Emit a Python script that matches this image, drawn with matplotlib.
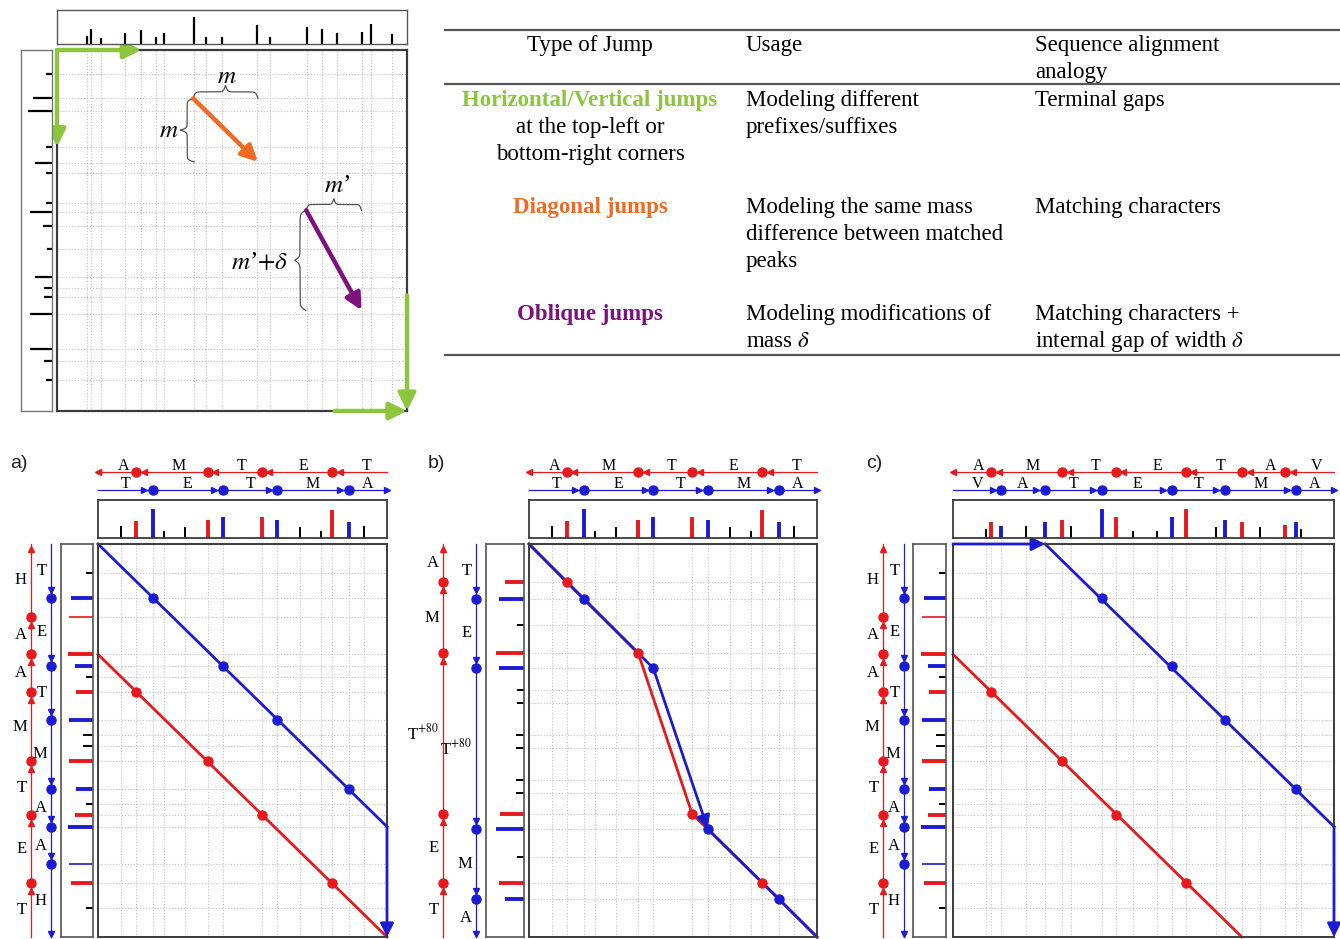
import numpy as np
import matplotlib.pyplot as plt

plt.rcParams['font.family'] = ['Liberation Serif', 'DejaVu Serif']
plt.rcParams['mathtext.fontset'] = 'stix'

W, H = 1340, 939
RED = '#e8191c'
BLUE = '#1b1bd4'
GRID = '#c4c4c4'
EDGE = '#3c3c3c'
GREEN = '#8cc63e'
ORANGE = '#f26a21'
PURPLE = '#7d117d'

# ---------------- top-left schematic (box units 0..100, y downwards) ----------------
tl_top_x = [8.6, 9.8, 12.7, 19.3, 24.1, 28.4, 30.6, 39.0, 42.7, 47.2, 57.2, 60.9,
            71.3, 75.8, 80.0, 87.1, 89.8, 95.7]
tl_top_h = [24, 44, 17, 32, 42, 22, 32, 80, 20, 20, 57, 20, 52, 44, 32, 35, 60, 29]
tl_left_y = [6.7, 13.4, 16.8, 26.8, 31.2, 34.0, 42.5, 44.8, 48.8, 55.0, 62.8, 65.8,
             68.4, 73.0, 82.9, 86.1, 91.5]
tl_left_len = [18, 55, 70, 18, 50, 18, 18, 65, 28, 15, 50, 25, 25, 65, 65, 25, 18]

tl_green_x0 = [0, 0, 100, 79.3]
tl_green_y0 = [0, 0, 68.0, 100]
tl_green_x1 = [24.1, 0, 100, 100]
tl_green_y1 = [0, 26.8, 100, 100]
tl_diag = [38.9, 13.4, 57.4, 31.0]
tl_obl = [71.2, 44.4, 87.0, 72.1]

# ---------------- table ----------------
table_header = ['Type of Jump', 'Usage', 'Sequence alignment\nanalogy']
table_type = ['Horizontal/Vertical jumps', 'Diagonal jumps', 'Oblique jumps']
table_type_note = ['at the top-left or\nbottom-right corners', '', '']
table_usage = ['Modeling different\nprefixes/suffixes',
               'Modeling the same mass\ndifference between matched\npeaks',
               'Modeling modifications of\nmass $\\delta$']
table_analogy = ['Terminal gaps', 'Matching characters',
                 'Matching characters +\ninternal gap of width $\\delta$']
table_colors = [GREEN, ORANGE, PURPLE]

# ---------------- bottom panels ----------------
# horizontal spectrum TETMA (panels a and b)
ab_h_total = 533
ab_h_blue = [101, 230, 331, 462]
ab_h_red = [70, 202, 302, 432]
ab_h_noise = [43, 122, 161, 372, 411, 490]
ab_h_blue_int = [87, 63, 55, 48]
ab_h_red_int = [50, 55, 63, 83]
ab_h_noise_int = [35, 22, 33, 33, 22, 35]
ab_h_blue_seq = ['T', 'E', 'T', 'M', 'A']
ab_h_red_seq = ['A', 'M', 'T', 'E', 'T']

# vertical spectrum TETMAAH (panels a and c)
ac_v_total = 741
ac_v_blue = [101, 230, 331, 462, 533, 604]
ac_v_red = [137, 208, 279, 410, 511, 640]
ac_v_noise = [55, 251, 360, 381, 490, 686]
ac_v_blue_len = [65, 55, 72, 52, 75, 72]
ac_v_red_len = [72, 75, 52, 72, 55, 65]
ac_v_noise_len = [22, 20, 30, 30, 20, 22]
ac_v_weak = [137, 604]
ac_v_blue_seq = ['T', 'E', 'T', 'M', 'A', 'A', 'H']
ac_v_red_seq = ['H', 'A', 'A', 'M', 'T', 'E', 'T']

# panel b vertical spectrum (modified T)
b_v_total = 728
b_v_blue = [101, 230, 528, 657]
b_v_red = [71, 202, 500, 628]
b_v_noise = [150, 270, 294, 353, 377, 437, 461, 580]
b_v_blue_len = [74, 74, 84, 57]
b_v_red_len = [57, 84, 72, 74]
b_v_noise_len = [20, 20, 20, 25, 25, 25, 25, 20]
b_v_blue_seq = ['T', 'E', 'T$^{+80}$', 'M', 'A']
b_v_red_seq = ['A', 'M', 'T$^{+80}$', 'E', 'T']

# panel c horizontal spectrum VATETMA
c_h_total = 703
c_h_blue = [89, 169, 275, 404, 502, 633]
c_h_red = [70, 201, 300, 429, 534, 613]
c_h_noise = [61, 135, 217, 333, 376, 486, 566, 643]
c_h_blue_int = [35, 47, 87, 63, 55, 48]
c_h_red_int = [48, 55, 63, 87, 48, 38]
c_h_noise_int = [27, 35, 35, 20, 20, 33, 32, 27]
c_h_blue_seq = ['V', 'A', 'T', 'E', 'T', 'M', 'A']
c_h_red_seq = ['A', 'M', 'T', 'E', 'T', 'A', 'V']

# alignment paths
a_blue_path = ([0, 533, 533], [0, 533, 741])
a_red_path = ([0, 533], [208, 741])
b_blue_path = ([0, 101, 230, 331, 462, 533], [0, 101, 230, 528, 657, 728])
b_red_path = ([0, 70, 202, 302, 432, 533], [0, 71, 202, 500, 628, 728])
c_blue_path = ([0, 170, 703, 703], [0, 0, 533, 741])
c_red_path = ([0, 533], [208, 741])

fig = plt.figure(figsize=(W / 100, H / 100), dpi=100)


def px_axes(x0, y0, x1, y1, frame=True, lw=1.3, color=EDGE):
    ax = fig.add_axes([x0 / W, 1 - y1 / H, (x1 - x0) / W, (y1 - y0) / H])
    ax.set_xticks([])
    ax.set_yticks([])
    if frame:
        for s in ax.spines.values():
            s.set_color(color)
            s.set_linewidth(lw)
    else:
        ax.axis('off')
    return ax


def arrow(ax, x0, y0, x1, y1, color, lw, ms):
    ax.annotate('', xy=(x1, y1), xytext=(x0, y0), annotation_clip=False,
                arrowprops=dict(arrowstyle='-|>', color=color, lw=lw,
                                mutation_scale=ms, shrinkA=0, shrinkB=0))


def brace(ax, a, b, base, depth, vertical=False):
    t = np.linspace(0, 1, 201)
    half = t[:101]
    beta = 60.0
    yh = 1 / (1 + np.exp(-beta * (half - half[0]))) + 1 / (1 + np.exp(-beta * (half - half[-1])))
    s = np.concatenate([yh, yh[-2::-1]]) - 0.5
    along = a + (b - a) * t
    across = base + depth * s
    if vertical:
        ax.plot(across, along, color='#555555', lw=0.9)
    else:
        ax.plot(along, across, color='#555555', lw=0.9)


canvas = px_axes(0, 0, W, H, frame=False)
canvas.set_xlim(0, W)
canvas.set_ylim(H, 0)

# ---------------- top-left schematic ----------------
tl = px_axes(57, 50, 407, 411, lw=1.6)
tl.set_xlim(0, 100)
tl.set_ylim(100, 0)
for x in tl_top_x:
    tl.axvline(x, color=GRID, ls=':', lw=0.8)
for y in tl_left_y:
    tl.axhline(y, color=GRID, ls=':', lw=0.8)

tt = px_axes(57, 10, 407, 44, lw=1.0, color='#555555')
tt.set_xlim(0, 100)
tt.set_ylim(0, 102)
tt.vlines(tl_top_x, 0, tl_top_h, color='k', lw=1.6)

tlf = px_axes(21, 50, 52, 411, lw=1.0, color='#777777')
tlf.set_xlim(92, 0)
tlf.set_ylim(100, 0)
tlf.hlines(tl_left_y, 0, tl_left_len, color='k', lw=1.6)

for x0, y0, x1, y1 in zip(tl_green_x0, tl_green_y0, tl_green_x1, tl_green_y1):
    arrow(tl, x0, y0, x1, y1, GREEN, 3.2, 26)
arrow(tl, *tl_diag, ORANGE, 3.2, 24)
arrow(tl, *tl_obl, PURPLE, 3.2, 24)

brace(tl, tl_diag[0], tl_diag[2], tl_diag[1], -3.6)
brace(tl, tl_diag[1], tl_diag[3], tl_diag[0] + 0.3, -4.0, vertical=True)
brace(tl, tl_obl[0], tl_obl[2], tl_obl[1], -3.2)
brace(tl, tl_obl[1], tl_obl[3], tl_obl[0] - 0.2, -3.1, vertical=True)
tl.text(48.4, 7.4, '$m$', ha='center', va='center', fontsize=18)
tl.text(32.0, 22.4, '$m$', ha='center', va='center', fontsize=18)
tl.text(80.0, 37.7, "$m$\u2019", ha='center', va='center', fontsize=18)
tl.text(58.0, 58.9, "$m$\u2019$+\\delta$", ha='center', va='center', fontsize=18)

# ---------------- table ----------------
canvas.hlines([30, 84, 355], 444, 1340, color='#555555', lw=1.6)
TFS = 16.5
LS = 27


def lines(x, y, txt, ha, **kw):
    for i, ln in enumerate(txt.split('\n')):
        canvas.text(x, y + 6 + i * LS, ln, ha=ha, va='baseline', fontsize=TFS, **kw)


lines(590, 45, table_header[0], 'center')
lines(746, 45, table_header[1], 'left')
lines(1035, 45, table_header[2], 'left')
row_y = [100, 207, 314]
for i, y in enumerate(row_y):
    lines(590, y, table_type[i], 'center', color=table_colors[i], fontweight='bold')
    if table_type_note[i]:
        lines(590, y + LS, table_type_note[i], 'center')
    lines(746, y, table_usage[i], 'left')
    lines(1035, y, table_analogy[i], 'left')

# ---------------- bottom panels ----------------
panels = [
    dict(label='a)', lx=10, box=(98, 387), lbox=(61, 93), sv=(5, 60), vx=(31, 51),
         ht=ab_h_total, hb=ab_h_blue, hr=ab_h_red, hn=ab_h_noise,
         hbi=ab_h_blue_int, hri=ab_h_red_int, hni=ab_h_noise_int,
         hbs=ab_h_blue_seq, hrs=ab_h_red_seq,
         vt=ac_v_total, vb=ac_v_blue, vr=ac_v_red, vn=ac_v_noise,
         vbl=ac_v_blue_len, vrl=ac_v_red_len, vnl=ac_v_noise_len, weak=ac_v_weak,
         vbs=ac_v_blue_seq, vrs=ac_v_red_seq,
         bpath=a_blue_path, rpath=a_red_path, barrows=[1],
         bdots=(ab_h_blue, ac_v_blue[:4]), rdots=(ab_h_red, ac_v_red[2:])),
    dict(label='b)', lx=428, box=(529, 817), lbox=(486, 524), sv=(410, 485), vx=(443, 476),
         ht=ab_h_total, hb=ab_h_blue, hr=ab_h_red, hn=ab_h_noise,
         hbi=ab_h_blue_int, hri=ab_h_red_int, hni=ab_h_noise_int,
         hbs=ab_h_blue_seq, hrs=ab_h_red_seq,
         vt=b_v_total, vb=b_v_blue, vr=b_v_red, vn=b_v_noise,
         vbl=b_v_blue_len, vrl=b_v_red_len, vnl=b_v_noise_len, weak=[],
         vbs=b_v_blue_seq, vrs=b_v_red_seq,
         bpath=b_blue_path, rpath=b_red_path, barrows=[2],
         bdots=(ab_h_blue, b_v_blue), rdots=(ab_h_red, b_v_red)),
    dict(label='c)', lx=866, box=(953, 1334), lbox=(913, 946), sv=(860, 912), vx=(883, 904),
         ht=c_h_total, hb=c_h_blue, hr=c_h_red, hn=c_h_noise,
         hbi=c_h_blue_int, hri=c_h_red_int, hni=c_h_noise_int,
         hbs=c_h_blue_seq, hrs=c_h_red_seq,
         vt=ac_v_total, vb=ac_v_blue, vr=ac_v_red, vn=ac_v_noise,
         vbl=ac_v_blue_len, vrl=ac_v_red_len, vnl=ac_v_noise_len, weak=ac_v_weak,
         vbs=ac_v_blue_seq, vrs=ac_v_red_seq,
         bpath=c_blue_path, rpath=c_red_path, barrows=[0, 2],
         bdots=(c_h_blue[2:], ac_v_blue[:4]), rdots=(c_h_red[:4], ac_v_red[2:])),
]

TOP, BOT = 544, 937
for p in panels:
    x0, x1 = p['box']
    ht, vt = p['ht'], p['vt']
    canvas.text(p['lx'], 463, p['label'], ha='left', va='center', fontsize=14,
                family='Liberation Sans', color='#222222')

    # main alignment box
    ax = px_axes(x0, TOP, x1, BOT, lw=1.4)
    ax.set_xlim(0, ht)
    ax.set_ylim(vt, 0)
    for x in p['hb'] + p['hr'] + p['hn']:
        ax.axvline(x, color=GRID, ls=':', lw=0.8)
    for y in p['vb'] + p['vr'] + p['vn']:
        ax.axhline(y, color=GRID, ls=':', lw=0.8)
    ax.plot(*p['rpath'], color=RED, lw=2.0, clip_on=False)
    bx, by = p['bpath']
    for i in range(len(bx) - 1):
        if i in p['barrows']:
            arrow(ax, bx[i], by[i], bx[i + 1], by[i + 1], BLUE, 2.0, 20)
        else:
            ax.plot(bx[i:i + 2], by[i:i + 2], color=BLUE, lw=2.0, clip_on=False)
    ax.plot(*p['rdots'], 'o', color=RED, ms=6.5, zorder=5)
    ax.plot(*p['bdots'], 'o', color=BLUE, ms=6.5, zorder=5)

    # top spectrum
    ts = px_axes(x0, 500, x1, 538, lw=1.3)
    ts.set_xlim(0, ht)
    ts.set_ylim(0, 113)
    ts.vlines(p['hn'], 0, p['hni'], color='k', lw=1.4)
    ts.vlines(p['hr'], 0, p['hri'], color=RED, lw=2.8)
    ts.vlines(p['hb'], 0, p['hbi'], color=BLUE, lw=2.8)

    # left spectrum
    lx0, lx1 = p['lbox']
    ls = px_axes(lx0, TOP, lx1, BOT, lw=1.2, color='#555555')
    ls.set_ylim(vt, 0)
    ls.set_xlim((lx1 - lx0) * 3, 0)
    ls.hlines(p['vn'], 0, p['vnl'], color='k', lw=1.4)
    for y, L in zip(p['vr'], p['vrl']):
        ls.hlines(y, 0, L, color=RED, lw=1.2 if y in p['weak'] else 2.8)
    for y, L in zip(p['vb'], p['vbl']):
        ls.hlines(y, 0, L, color=BLUE, lw=1.2 if y in p['weak'] else 2.8)

    # horizontal sequences
    st = px_axes(x0, 455, x1, 497, frame=False)
    st.set_xlim(0, ht)
    st.set_ylim(497, 455)
    yr, yb = 472, 490
    hr = list(p['hr'])
    hb = list(p['hb'])
    st.plot([0, ht], [yr, yr], color=RED, lw=0.9, clip_on=False)
    st.plot([0], [yr], '<', color=RED, ms=5, clip_on=False)
    st.plot(hr, [yr] * len(hr), 'o', color=RED, ms=6.5, clip_on=False)
    st.plot(np.array(hr) + 14, [yr] * len(hr), '<', color=RED, ms=4, clip_on=False)
    st.plot([0, ht], [yb, yb], color=BLUE, lw=0.9, clip_on=False)
    st.plot([ht], [yb], '>', color=BLUE, ms=5, clip_on=False)
    st.plot(hb, [yb] * len(hb), 'o', color=BLUE, ms=6.5, clip_on=False)
    st.plot(np.array(hb) - 16, [yb] * len(hb), '>', color=BLUE, ms=4, clip_on=False)
    for lab, a, b in zip(p['hrs'], [0] + hr, hr + [ht]):
        st.text((a + b) / 2 + 12, yr - 1.5, lab, ha='center', va='baseline', fontsize=11.5)
    for lab, a, b in zip(p['hbs'], [0] + hb, hb + [ht]):
        st.text((a + b) / 2, yb - 1.5, lab, ha='center', va='baseline', fontsize=11.5)

    # vertical sequences
    s0, s1 = p['sv']
    sv = px_axes(s0, TOP, s1, BOT, frame=False)
    sv.set_xlim(s0, s1)
    sv.set_ylim(vt, 0)
    xr, xb = p['vx']
    vr = list(p['vr'])
    vb = list(p['vb'])
    sv.plot([xr, xr], [0, vt], color=RED, lw=0.9, clip_on=False)
    sv.plot([xr], [10], '^', color=RED, ms=5, clip_on=False)
    sv.plot([xr] * len(vr), vr, 'o', color=RED, ms=6.5, clip_on=False)
    sv.plot([xr] * len(vr), np.array(vr) + 15, '^', color=RED, ms=4, clip_on=False)
    sv.plot([xb, xb], [0, vt], color=BLUE, lw=0.9, clip_on=False)
    sv.plot([xb], [vt - 6], 'v', color=BLUE, ms=5, clip_on=False)
    sv.plot([xb] * len(vb), vb, 'o', color=BLUE, ms=6.5, clip_on=False)
    sv.plot([xb] * len(vb), np.array(vb) - 15, 'v', color=BLUE, ms=4, clip_on=False)
    for lab, a, b in zip(p['vrs'], [0] + vr, vr + [vt]):
        sv.text(xr - 4, (a + b) / 2, lab, ha='right', va='center', fontsize=12)
    for lab, a, b in zip(p['vbs'], [0] + vb, vb + [vt]):
        sv.text(xb - 4, (a + b) / 2, lab, ha='right', va='center', fontsize=12)

fig.savefig('out.png', dpi=100)
